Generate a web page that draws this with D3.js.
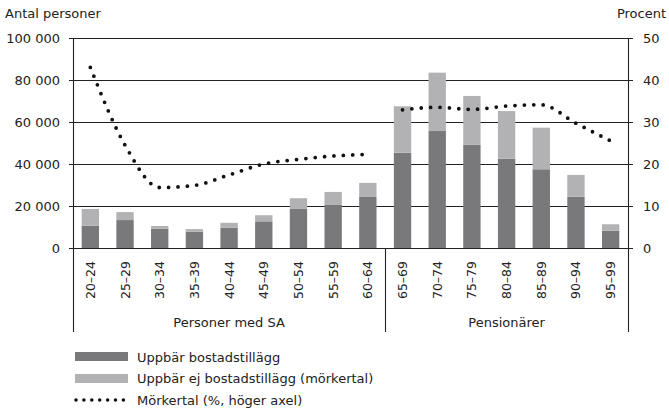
<!DOCTYPE html>
<html>
<head>
<meta charset="utf-8">
<script src="https://cdn.jsdelivr.net/npm/d3@7"></script>
<style>
  body { margin: 0; background: #fff; }
  text { font-family: "DejaVu Sans", sans-serif; fill: #222; }
</style>
</head>
<body>
<div id="chart"></div>
<script>
// age groups and values
var ageGroups = ["20–24","25–29","30–34","35–39","40–44","45–49","50–54","55–59","60–64",
                 "65–69","70–74","75–79","80–84","85–89","90–94","95–99"];
var uppbar   = [10600,13300,9200,7800,9700,12700,18600,20500,24300,45400,55700,49200,42500,37500,24400,8200];
var ejUppbar = [8000,3800,1300,1200,2300,2900,5100,6200,6700,22100,27800,23200,22700,19800,10400,3100];
var morkertal = [43,24.5,14.4,14.9,17.4,20,21.1,21.9,22.3, 32.9,33.5,33,33.8,34.1,29.7,25.5];
var groups = [
  { name: "Personer med SA", from: 0, to: 8 },
  { name: "Pensionärer", from: 9, to: 15 }
];
var leftTicks = [0,20000,40000,60000,80000,100000],
    rightTicks = [0,10,20,30,40,50];

var W = 669, H = 413,
    m = { t:38, r:41, b:165, l:73 },
    x0 = m.l, x1 = W - m.r, y0 = H - m.b, y1 = m.t;

var svg = d3.select("#chart").append("svg")
    .attr("width", W)
    .attr("height", H);

var x = d3.scaleBand()
      .domain(ageGroups)
      .range([x0, x1])
      .paddingInner(0.5)
      .paddingOuter(0.25),
    yL = d3.scaleLinear().domain([0,100000]).range([y0, y1]),
    yR = d3.scaleLinear().domain([0,50]).range([y0, y1]);

var fmt = function(v) { return d3.format(",")(v).replace(/,/g, " "); };

// grid lines with small ticks on both sides
svg.append("g").selectAll("line")
  .data(leftTicks)
  .enter().append("line")
    .attr("x1", x0 - 4)
    .attr("x2", x1 + 5)
    .attr("y1", function(d) { return Math.round(yL(d)) + 0.5; })
    .attr("y2", function(d) { return Math.round(yL(d)) + 0.5; })
    .attr("stroke", "#222")
    .attr("stroke-width", 1.1);

svg.append("g").selectAll("text")
  .data(leftTicks)
  .enter().append("text")
    .attr("x", x0 - 13)
    .attr("y", function(d) { return yL(d) + 5; })
    .attr("text-anchor", "end")
    .style("font-size", "13px")
    .text(fmt);

svg.append("g").selectAll("text")
  .data(rightTicks)
  .enter().append("text")
    .attr("x", x1 + 15)
    .attr("y", function(d) { return yR(d) + 5; })
    .style("font-size", "13px")
    .text(function(d) { return d; });

svg.append("text")
    .attr("x", 5).attr("y", 18)
    .style("font-size", "13px")
    .text("Antal personer");
svg.append("text")
    .attr("x", 666).attr("y", 18)
    .attr("text-anchor", "end")
    .style("font-size", "13px")
    .text("Procent");

// stacked bars
var bars = svg.append("g");
ageGroups.forEach(function(a, i) {
  bars.append("rect")
      .attr("x", x(a))
      .attr("width", x.bandwidth())
      .attr("y", yL(uppbar[i]))
      .attr("height", y0 - yL(uppbar[i]))
      .attr("fill", "#79797c");
  bars.append("rect")
      .attr("x", x(a))
      .attr("width", x.bandwidth())
      .attr("y", yL(uppbar[i] + ejUppbar[i]))
      .attr("height", yL(uppbar[i]) - yL(uppbar[i] + ejUppbar[i]))
      .attr("fill", "#b2b2b4");
});

// redraw zero line over bars
svg.append("line")
    .attr("x1", x0 - 4).attr("x2", x1 + 5)
    .attr("y1", Math.round(y0) + 0.5).attr("y2", Math.round(y0) + 0.5)
    .attr("stroke", "#222").attr("stroke-width", 1.1);

// vertical axis lines and group separators
var divX = (x(ageGroups[8]) + x.bandwidth() + x(ageGroups[9])) / 2;
[x0, divX, x1].forEach(function(xx) {
  svg.append("line")
      .attr("x1", Math.round(xx) + 0.5).attr("x2", Math.round(xx) + 0.5)
      .attr("y1", xx === divX ? y0 : y1)
      .attr("y2", 332)
      .attr("stroke", "#222").attr("stroke-width", 1.1);
});

// category labels, rotated
svg.append("g").selectAll("text")
  .data(ageGroups)
  .enter().append("text")
    .attr("transform", function(d) {
      return "translate(" + (x(d) + x.bandwidth()/2 + 4.5) + "," + (y0 + 13) + ") rotate(-90)";
    })
    .attr("text-anchor", "end")
    .style("font-size", "12.5px")
    .text(function(d) { return d; });

svg.append("g").selectAll("text")
  .data(groups)
  .enter().append("text")
    .attr("x", function(g) {
      var a = g.from === 0 ? x0 : divX,
          b = g.to === ageGroups.length - 1 ? x1 : divX;
      return (a + b) / 2;
    })
    .attr("y", 327)
    .attr("text-anchor", "middle")
    .style("font-size", "13px")
    .text(function(g) { return g.name; });

// dotted line, one segment per group
var line = d3.line()
    .x(function(d) { return x(d.a) + x.bandwidth()/2; })
    .y(function(d) { return yR(d.v); })
    .curve(d3.curveMonotoneX);

groups.forEach(function(g) {
  var pts = [];
  for (var i = g.from; i <= g.to; i++) pts.push({ a: ageGroups[i], v: morkertal[i] });
  svg.append("path")
      .attr("d", line(pts))
      .attr("fill", "none")
      .attr("stroke", "#111")
      .attr("stroke-width", 3.8)
      .attr("stroke-linecap", "round")
      .attr("stroke-dasharray", "0 9.4");
});

// legend
var leg = svg.append("g");
leg.append("rect").attr("x", 75).attr("y", 352).attr("width", 53).attr("height", 9).attr("fill", "#79797c");
leg.append("rect").attr("x", 75).attr("y", 374).attr("width", 53).attr("height", 9).attr("fill", "#b2b2b4");
leg.append("line")
    .attr("x1", 76).attr("x2", 124).attr("y1", 400).attr("y2", 400)
    .attr("stroke", "#111").attr("stroke-width", 3.6)
    .attr("stroke-linecap", "round").attr("stroke-dasharray", "0 7.9");
[["Uppbär bostadstillägg", 362], ["Uppbär ej bostadstillägg (mörkertal)", 383], ["Mörkertal (%, höger axel)", 405]]
  .forEach(function(t) {
    leg.append("text").attr("x", 137).attr("y", t[1]).style("font-size", "13px").text(t[0]);
  });
</script>
</body>
</html>
